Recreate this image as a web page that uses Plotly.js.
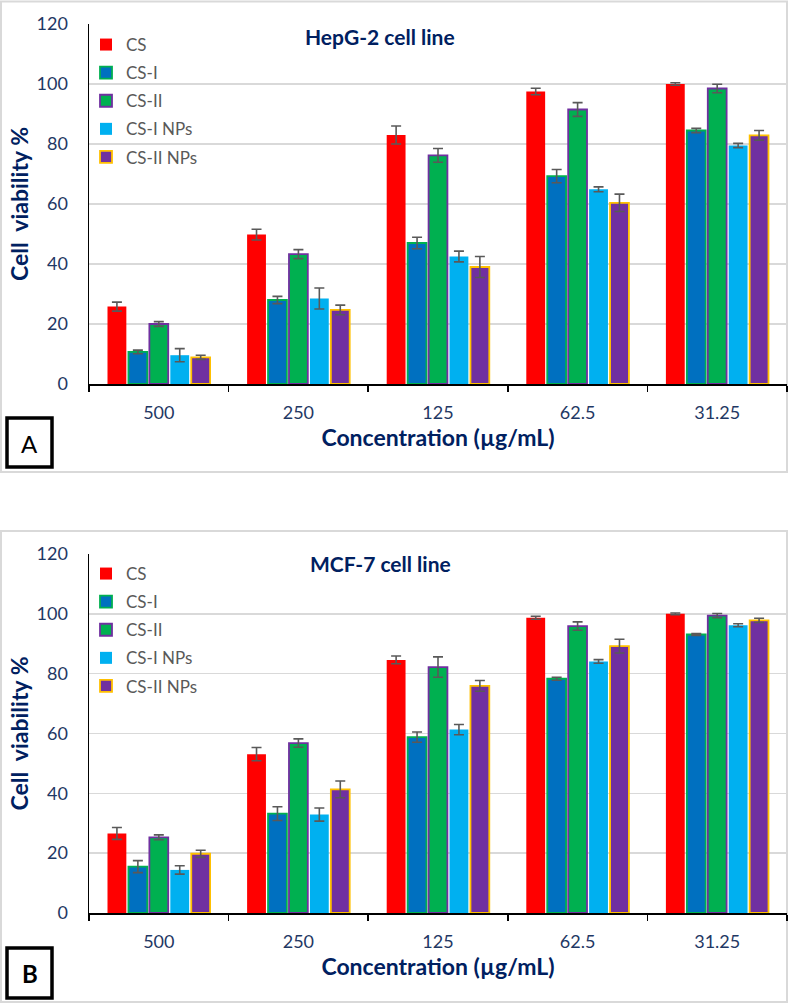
<!DOCTYPE html>
<html>
<head>
<meta charset="utf-8">
<script src="https://cdn.plot.ly/plotly-3.0.1.min.js"></script>
<style>html,body{margin:0;padding:0;background:#fff;}#chart{width:789px;height:1004px;}</style>
</head>
<body>
<div id="chart"></div>
<script>
// ---- data ----
const concentrations = ['500', '250', '125', '62.5', '31.25'];
const seriesNames = ['CS', 'CS-I', 'CS-II', 'CS-I NPs', 'CS-II NPs'];

// Panel A: HepG-2 cell line
const hepg2_CS        = [25.8, 49.8, 83.0, 97.5, 100.0];
const hepg2_CS_err    = [1.5, 1.8, 3.0, 1.1, 0.4];
const hepg2_CSI       = [10.7, 28.0, 47.0, 69.3, 84.5];
const hepg2_CSI_err   = [0.6, 1.2, 1.9, 2.2, 0.7];
const hepg2_CSII      = [20.0, 43.3, 76.2, 91.5, 98.5];
const hepg2_CSII_err  = [0.8, 1.5, 2.3, 2.3, 1.4];
const hepg2_CSINP     = [9.6, 28.5, 42.5, 64.9, 79.5];
const hepg2_CSINP_err = [2.2, 3.5, 1.8, 0.8, 0.7];
const hepg2_CSIINP    = [8.9, 24.7, 39.0, 60.4, 82.9];
const hepg2_CSIINP_err= [0.7, 1.6, 3.5, 2.9, 1.6];

// Panel B: MCF-7 cell line
const mcf7_CS         = [26.6, 53.1, 84.6, 98.7, 100.0];
const mcf7_CS_err     = [2.0, 2.2, 1.3, 0.5, 0.3];
const mcf7_CSI        = [15.5, 33.2, 58.8, 78.3, 93.1];
const mcf7_CSI_err    = [2.0, 2.3, 1.7, 0.5, 0.3];
const mcf7_CSII       = [25.3, 56.8, 82.2, 95.9, 99.4];
const mcf7_CSII_err   = [0.8, 1.4, 3.4, 1.4, 0.7];
const mcf7_CSINP      = [14.4, 32.9, 61.3, 84.1, 96.2];
const mcf7_CSINP_err  = [1.4, 2.2, 1.7, 0.6, 0.5];
const mcf7_CSIINP     = [19.8, 41.3, 75.9, 89.2, 97.8];
const mcf7_CSIINP_err = [1.2, 2.8, 1.8, 2.3, 0.7];

const yTickVals = [0, 20, 40, 60, 80, 100, 120];

// ---- styles ----
const fills   = ['#FF0000', '#0070C0', '#00B050', '#00B0F0', '#7030A0'];
const borders = ['#FF0000', '#00B050', '#7030A0', '#00B0F0', '#FFC000'];
const navy = '#002060';
const tickNavy = '#1F3864';
const FONT = 'Lato, "Liberation Sans", sans-serif';

const W = 789, H = 1004;
const px = v => v / W;
const py = v => 1 - v / H;

const panelA = [hepg2_CS, hepg2_CSI, hepg2_CSII, hepg2_CSINP, hepg2_CSIINP];
const panelAerr = [hepg2_CS_err, hepg2_CSI_err, hepg2_CSII_err, hepg2_CSINP_err, hepg2_CSIINP_err];
const panelB = [mcf7_CS, mcf7_CSI, mcf7_CSII, mcf7_CSINP, mcf7_CSIINP];
const panelBerr = [mcf7_CS_err, mcf7_CSI_err, mcf7_CSII_err, mcf7_CSINP_err, mcf7_CSIINP_err];

const traces = [];
function addPanel(vals, errs, xa, ya, legendId) {
  vals.forEach((v, i) => {
    traces.push({
      type: 'bar',
      name: seriesNames[i],
      x: concentrations,
      y: v,
      xaxis: xa, yaxis: ya,
      legend: legendId,
      legendgroup: legendId + i,
      marker: { color: fills[i], line: { color: borders[i], width: (i === 0 || i === 3) ? 0 : 1.8 } },
      error_y: { type: 'data', array: errs[i], visible: true, color: '#595959', thickness: 1.6, width: 5 },
      hoverinfo: 'x+y+name'
    });
  });
}
addPanel(panelA, panelAerr, 'x', 'y', 'legend');
addPanel(panelB, panelBerr, 'x2', 'y2', 'legend2');

const xBase = {
  type: 'category',
  domain: [px(89), px(787)],
  showline: true, linecolor: '#000', linewidth: 2,
  ticks: 'outside', tickson: 'boundaries', ticklen: 6, tickcolor: '#000', tickwidth: 1.5,
  tickfont: { family: FONT, size: 18, color: tickNavy },
  ticklabelstandoff: 11,
  showgrid: false, zeroline: false,
  title: { text: '<b>Concentration (µg/mL)</b>', font: { family: FONT, size: 23, color: navy }, standoff: 4 },
  fixedrange: true
};
const yBase = {
  range: [0, 120],
  tickvals: yTickVals,
  showline: true, linecolor: '#000', linewidth: 1.5,
  ticks: '',
  tickfont: { family: FONT, size: 18, color: tickNavy },
  ticklabelstandoff: 16,
  showgrid: true, gridcolor: '#D9D9D9', gridwidth: 1.5,
  zeroline: false,
  title: { text: '<b>Cell\u00A0 viability %</b>', font: { family: FONT, size: 23, color: navy }, standoff: 1 },
  fixedrange: true
};

const legendBase = {
  x: px(86), xanchor: 'left', yanchor: 'top',
  bgcolor: 'rgba(0,0,0,0)',
  font: { family: FONT, size: 17, color: '#595959' },
  traceorder: 'grouped', tracegroupgap: 3,
  itemwidth: 30
};

const layout = {
  width: W, height: H,
  margin: { l: 0, r: 0, t: 0, b: 0 },
  paper_bgcolor: '#fff', plot_bgcolor: '#fff',
  barmode: 'group', bargap: 0.25, bargroupgap: 0.1,
  showlegend: true,
  xaxis: Object.assign({}, xBase, { anchor: 'y' }),
  yaxis: Object.assign({}, yBase, { domain: [py(384), py(24)], anchor: 'x' }),
  xaxis2: Object.assign({}, xBase, { anchor: 'y2' }),
  yaxis2: Object.assign({}, yBase, { domain: [py(913), py(554)], anchor: 'x2' }),
  legend: Object.assign({}, legendBase, { y: py(27) }),
  legend2: Object.assign({}, legendBase, { y: py(556) }),
  annotations: [
    { xref: 'paper', yref: 'paper', x: px(380), y: py(37), text: '<b>HepG-2 cell line</b>', showarrow: false,
      font: { family: FONT, size: 21, color: navy }, xanchor: 'center', yanchor: 'middle' },
    { xref: 'paper', yref: 'paper', x: px(380), y: py(563), text: '<b>MCF-7 cell line</b>', showarrow: false,
      font: { family: FONT, size: 21, color: navy }, xanchor: 'center', yanchor: 'middle' },
    { xref: 'paper', yref: 'paper', x: px(29.5), y: py(443), text: 'A', showarrow: false,
      font: { family: FONT, size: 24, color: '#000' }, xanchor: 'center', yanchor: 'middle' },
    { xref: 'paper', yref: 'paper', x: px(29.5), y: py(973), text: '<b>B</b>', showarrow: false,
      font: { family: FONT, size: 24, color: '#000' }, xanchor: 'center', yanchor: 'middle' }
  ],
  shapes: [
    { type: 'rect', xref: 'paper', yref: 'paper', x0: px(1), x1: px(787), y0: py(472), y1: py(1.5),
      line: { color: '#D9D9D9', width: 2 }, layer: 'below' },
    { type: 'rect', xref: 'paper', yref: 'paper', x0: px(1), x1: px(787), y0: py(1002), y1: py(531),
      line: { color: '#D9D9D9', width: 2 }, layer: 'below' },
    { type: 'rect', xref: 'paper', yref: 'paper', x0: px(7), x1: px(52), y0: py(467), y1: py(418),
      line: { color: '#000', width: 3.5 } },
    { type: 'rect', xref: 'paper', yref: 'paper', x0: px(7), x1: px(52), y0: py(998), y1: py(948),
      line: { color: '#000', width: 3.5 } }
  ]
};

Plotly.newPlot('chart', traces, layout, { displayModeBar: false, staticPlot: true });
</script>
</body>
</html>
